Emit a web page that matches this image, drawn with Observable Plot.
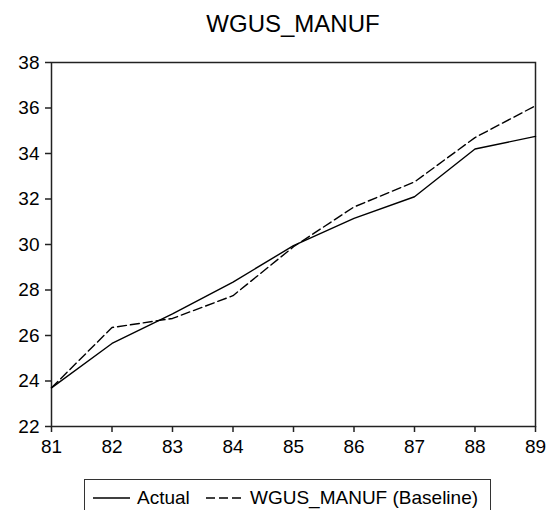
<!DOCTYPE html>
<html>
<head>
<meta charset="utf-8">
<script src="https://cdn.jsdelivr.net/npm/d3@7"></script>
<script src="https://cdn.jsdelivr.net/npm/@observablehq/plot@0.6"></script>
<style>
  html, body { margin: 0; padding: 0; background: #fff; overflow: hidden; }
  body { width: 556px; height: 510px; position: relative; font-family: "Liberation Sans", Arial, sans-serif; color: #000; }
  #title { position: absolute; left: 51px; top: 10px; width: 484px; text-align: center; font-size: 24px; line-height: 28px; }
  #chart { position: absolute; left: 0; top: 40px; }
  #legend { position: absolute; left: 84px; top: 479px; width: 405px; height: 40px; border: 1.5px solid #333; border-bottom: none; font-size: 19px; }
  #legend .item { position: absolute; top: 7px; display: flex; align-items: center; white-space: nowrap; }
  #legend svg { display: block; margin-right: 7px; }
</style>
</head>
<body>
<div id="title"></div>
<div id="chart"></div>
<div id="legend"></div>
<script>
const titleText = "WGUS_MANUF";
const years = [81, 82, 83, 84, 85, 86, 87, 88, 89];
const actual = [23.7, 25.65, 26.95, 28.35, 29.95, 31.15, 32.1, 34.2, 34.75];
const baseline = [23.7, 26.35, 26.75, 27.75, 29.9, 31.65, 32.75, 34.7, 36.1];
const seriesNames = ["Actual", "WGUS_MANUF (Baseline)"];
const xTicks = [81, 82, 83, 84, 85, 86, 87, 88, 89];
const yTicks = [22, 24, 26, 28, 30, 32, 34, 36, 38];

document.getElementById("title").textContent = titleText;

const actualData = years.map((y, i) => ({year: y, value: actual[i]}));
const baselineData = years.map((y, i) => ({year: y, value: baseline[i]}));
const dash = "9,4";

const chart = Plot.plot({
  width: 556,
  height: 430,
  marginTop: 22,
  marginBottom: 44,
  marginLeft: 51,
  marginRight: 21,
  style: {fontFamily: "'Liberation Sans', Arial, sans-serif", fontSize: "19px", color: "#000", background: "#fff"},
  x: {domain: [81, 89], label: null},
  y: {domain: [22, 38], label: null},
  marks: [
    Plot.axisX({ticks: xTicks, tickFormat: d => String(d), tickSize: 6, tickPadding: 7, label: null, fontSize: 19, stroke: "#222", strokeWidth: 1.5}),
    Plot.axisY({ticks: yTicks, tickFormat: d => String(d), tickSize: 6, tickPadding: 6, label: null, fontSize: 19, stroke: "#222", strokeWidth: 1.5}),
    Plot.frame({stroke: "#222", strokeWidth: 1.5}),
    Plot.line(baselineData, {x: "year", y: "value", stroke: "#000", strokeWidth: 1.4, strokeDasharray: dash}),
    Plot.line(actualData, {x: "year", y: "value", stroke: "#000", strokeWidth: 1.4})
  ]
});
document.getElementById("chart").appendChild(chart);

// Legend
const legend = document.getElementById("legend");
function addItem(left, name, dashed) {
  const item = document.createElement("div");
  item.className = "item";
  item.style.left = left + "px";
  const ns = "http://www.w3.org/2000/svg";
  const svg = document.createElementNS(ns, "svg");
  svg.setAttribute("width", 37);
  svg.setAttribute("height", 10);
  const ln = document.createElementNS(ns, "line");
  ln.setAttribute("x1", 0); ln.setAttribute("x2", 37);
  ln.setAttribute("y1", 5); ln.setAttribute("y2", 5);
  ln.setAttribute("stroke", "#000");
  ln.setAttribute("stroke-width", 1.4);
  if (dashed) ln.setAttribute("stroke-dasharray", dash);
  svg.appendChild(ln);
  const span = document.createElement("span");
  span.textContent = name;
  item.appendChild(svg);
  item.appendChild(span);
  legend.appendChild(item);
}
addItem(8, seriesNames[0], false);
addItem(121, seriesNames[1], true);
</script>
</body>
</html>
